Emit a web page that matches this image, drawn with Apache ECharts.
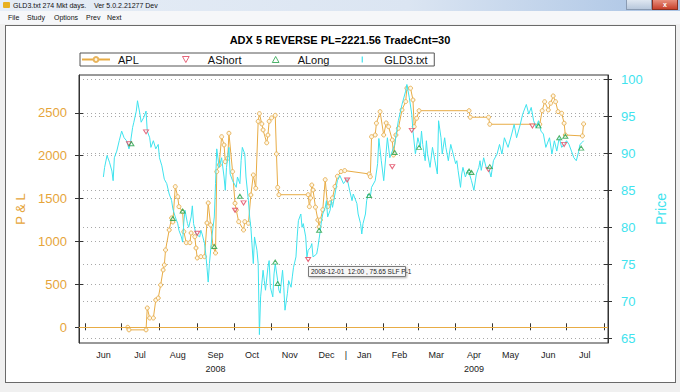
<!DOCTYPE html>
<html><head><meta charset="utf-8">
<script src="https://cdn.jsdelivr.net/npm/echarts@6/dist/echarts.min.js"></script>
<style>
html,body{margin:0;padding:0;background:#f0f0f0;overflow:hidden;}
#wrap{position:relative;width:680px;height:392px;font-family:"Liberation Sans",Arial,sans-serif;}
#titlebar{position:absolute;left:0;top:0;width:680px;height:11px;background:linear-gradient(to right,#e6edf6 0%,#dbe5f2 60%,#a9c3e4 100%);}
#titlebar .t{position:absolute;left:13px;top:1px;font-size:7px;color:#111;white-space:pre;line-height:9px;}
#titlebar .ic{position:absolute;left:3px;top:2px;width:7px;height:6px;background:#e8b020;border-radius:1px;}
#btns{position:absolute;left:626px;top:0;width:26px;height:10px;background:linear-gradient(#dfe7f1,#b8c8dc);border:1px solid #8a9bb2;border-top:none;box-sizing:border-box;}
#close{position:absolute;left:652px;top:0;width:26px;height:10px;background:linear-gradient(#e8907e,#c8412c);border:1px solid #8a3020;border-top:none;box-sizing:border-box;color:#fff;font-size:7px;text-align:center;line-height:9px;font-weight:bold;}
#menubar{position:absolute;left:0;top:11px;width:680px;height:13px;background:#f6f7f9;}
#menubar span{position:absolute;top:2px;font-size:7px;color:#111;line-height:9px;}
#panel{position:absolute;left:5px;top:25px;width:671px;height:358px;background:#fff;border:1px solid #6a6a6a;box-sizing:border-box;}
#c{position:absolute;left:0;top:0;width:680px;height:392px;}
</style>
</head><body>
<div id="wrap">
<div id="titlebar"><div class="ic"></div><div class="t">GLD3.txt 274 Mkt days.    Ver 5.0.2.21277 Dev</div></div>
<div id="btns"></div><div id="close">x</div>
<div id="menubar"><span style="left:8px">File</span><span style="left:27px">Study</span><span style="left:54px">Options</span><span style="left:86px">Prev</span><span style="left:107px">Next</span></div>
<div id="panel"></div>
<div id="c"></div>
</div>
<script>
const chartTitle = 'ADX 5 REVERSE PL=2221.56 TradeCnt=30';
const aplDates = ['2008-07-06','2008-07-07','2008-07-21','2008-07-22','2008-07-24','2008-07-27','2008-07-29','2008-07-31','2008-08-02','2008-08-04','2008-08-05','2008-08-06','2008-08-09','2008-08-11','2008-08-12','2008-08-14','2008-08-16','2008-08-17','2008-08-20','2008-08-21','2008-08-23','2008-08-26','2008-08-27','2008-08-30','2008-08-31','2008-09-01','2008-09-04','2008-09-07','2008-09-09','2008-09-10','2008-09-12','2008-09-14','2008-09-16','2008-09-17','2008-09-19','2008-09-21','2008-09-23','2008-09-24','2008-09-26','2008-09-27','2008-09-30','2008-10-02','2008-10-03','2008-10-05','2008-10-09','2008-10-10','2008-10-13','2008-10-15','2008-10-17','2008-10-19','2008-10-21','2008-10-22','2008-10-24','2008-10-25','2008-10-28','2008-10-29','2008-10-30','2008-11-01','2008-11-04','2008-11-05','2008-11-06','2008-11-07','2008-12-01','2008-12-02','2008-12-03','2008-12-04','2008-12-05','2008-12-07','2008-12-09','2008-12-10','2008-12-11','2008-12-13','2008-12-15','2008-12-17','2008-12-19','2008-12-21','2008-12-23','2008-12-25','2008-12-28','2008-12-31','2009-01-20','2009-01-21','2009-01-22','2009-01-25','2009-01-26','2009-01-29','2009-02-01','2009-02-03','2009-02-05','2009-02-08','2009-02-09','2009-02-11','2009-02-13','2009-02-16','2009-02-19','2009-02-20','2009-02-23','2009-02-25','2009-02-26','2009-02-28','2009-03-02','2009-04-12','2009-04-13','2009-04-28','2009-04-29','2009-06-09','2009-06-11','2009-06-13','2009-06-16','2009-06-18','2009-06-20','2009-06-22','2009-06-24','2009-06-27','2009-06-29','2009-06-30','2009-07-14','2009-07-15'];
const aplValues = [0,-30,-30,225,108,108,318,341,493,668,726,901,1134,1274,1227,1639,1522,1406,1347,1114,986,986,1099,1056,924,808,823,823,1216,1449,1192,939,866,1814,1892,2221,2125,1930,1970,2261,1814,1445,1367,1231,1134,1231,1212,1542,1775,1620,2400,2490,2370,2300,2150,2240,2400,2440,2470,2020,1630,1545,1545,1406,1507,1658,1600,1400,1250,1170,1250,1370,1720,1406,1450,1507,1640,1760,1815,1826,1787,1755,2221,2241,2378,2513,2241,2381,2338,2183,2008,2241,2319,2533,2630,2786,2786,2649,2338,2436,2524,2524,2448,2448,2366,2366,2524,2629,2533,2611,2696,2629,2513,2494,2378,2241,2230,2370];
const priceDates = ['2008-06-16','2008-06-17','2008-06-19','2008-06-21','2008-06-23','2008-06-24','2008-06-25','2008-06-27','2008-06-29','2008-07-01','2008-07-03','2008-07-05','2008-07-07','2008-07-08','2008-07-10','2008-07-11','2008-07-13','2008-07-14','2008-07-16','2008-07-17','2008-07-19','2008-07-21','2008-07-22','2008-07-24','2008-07-25','2008-07-27','2008-07-29','2008-07-31','2008-08-01','2008-08-03','2008-08-05','2008-08-07','2008-08-09','2008-08-11','2008-08-12','2008-08-14','2008-08-16','2008-08-17','2008-08-19','2008-08-20','2008-08-21','2008-08-22','2008-08-24','2008-08-25','2008-08-27','2008-08-28','2008-08-29','2008-08-31','2008-09-03','2008-09-04','2008-09-05','2008-09-07','2008-09-08','2008-09-09','2008-09-10','2008-09-11','2008-09-13','2008-09-15','2008-09-16','2008-09-17','2008-09-19','2008-09-21','2008-09-23','2008-09-24','2008-09-25','2008-09-27','2008-09-28','2008-09-30','2008-10-03','2008-10-04','2008-10-06','2008-10-07','2008-10-08','2008-10-10','2008-10-11','2008-10-13','2008-10-14','2008-10-15','2008-10-17','2008-10-18','2008-10-20','2008-10-21','2008-10-22','2008-10-23','2008-10-25','2008-10-26','2008-10-27','2008-10-29','2008-10-30','2008-10-31','2008-11-02','2008-11-03','2008-11-04','2008-11-06','2008-11-07','2008-11-08','2008-11-10','2008-11-11','2008-11-12','2008-11-14','2008-11-15','2008-11-17','2008-11-18','2008-11-19','2008-11-21','2008-11-22','2008-11-23','2008-11-25','2008-11-26','2008-11-27','2008-11-29','2008-11-30','2008-12-01','2008-12-03','2008-12-04','2008-12-05','2008-12-08','2008-12-09','2008-12-11','2008-12-12','2008-12-13','2008-12-15','2008-12-16','2008-12-17','2008-12-19','2008-12-20','2008-12-21','2008-12-23','2008-12-24','2008-12-25','2008-12-27','2008-12-30','2009-01-02','2009-01-04','2009-01-06','2009-01-07','2009-01-10','2009-01-11','2009-01-13','2009-01-14','2009-01-15','2009-01-17','2009-01-18','2009-01-19','2009-01-21','2009-01-22','2009-01-25','2009-01-27','2009-01-28','2009-01-30','2009-02-01','2009-02-04','2009-02-06','2009-02-10','2009-02-13','2009-02-16','2009-02-19','2009-02-20','2009-02-22','2009-02-24','2009-02-25','2009-02-27','2009-03-01','2009-03-03','2009-03-04','2009-03-05','2009-03-07','2009-03-08','2009-03-09','2009-03-11','2009-03-13','2009-03-15','2009-03-17','2009-03-18','2009-03-20','2009-03-21','2009-03-23','2009-03-24','2009-03-26','2009-03-28','2009-03-30','2009-04-01','2009-04-02','2009-04-03','2009-04-05','2009-04-06','2009-04-07','2009-04-09','2009-04-11','2009-04-12','2009-04-14','2009-04-16','2009-04-18','2009-04-20','2009-04-21','2009-04-22','2009-04-24','2009-04-26','2009-04-28','2009-04-30','2009-05-02','2009-05-05','2009-05-07','2009-05-09','2009-05-11','2009-05-14','2009-05-17','2009-05-19','2009-05-21','2009-05-24','2009-05-26','2009-05-29','2009-05-31','2009-06-02','2009-06-04','2009-06-06','2009-06-08','2009-06-10','2009-06-12','2009-06-14','2009-06-17','2009-06-19','2009-06-21','2009-06-23','2009-06-25','2009-06-27','2009-06-29','2009-07-01','2009-07-03','2009-07-05','2009-07-07','2009-07-09','2009-07-11','2009-07-12','2009-07-14','2009-07-15'];
const priceValues = [86.8,88.1,89.7,88.8,87.6,86.3,89.4,90.3,91.7,93.0,92.1,91.7,90.6,91.2,93.5,94.2,95.7,97.1,95.3,94.2,94.8,95.7,93.0,92.1,90.8,91.7,90.6,91.2,89.4,88.3,86.5,85.9,84.5,83.6,82.5,81.4,80.5,79.6,78.7,78.0,80.7,82.3,80.5,80.0,81.4,82.9,80.5,79.1,78.7,79.6,79.1,77.8,76.4,74.6,72.6,75.1,78.7,81.4,85.9,90.6,88.1,89.4,86.8,85.0,88.1,90.8,87.2,86.3,85.4,86.8,85.9,89.0,90.8,89.9,86.8,83.6,81.4,80.0,75.1,78.7,76.9,75.1,65.5,70.6,74.2,72.8,71.5,74.6,75.5,71.9,70.6,73.7,75.1,72.8,71.5,71.1,74.2,71.9,68.8,71.1,72.8,71.9,73.3,74.6,76.0,78.7,80.9,81.8,80.0,80.5,78.7,76.0,76.9,77.3,77.8,76.0,76.4,77.3,79.6,80.9,81.8,82.7,83.6,81.4,82.3,83.6,82.7,84.5,85.4,86.3,87.0,85.9,86.6,85.0,83.6,84.5,83.2,81.8,80.5,79.1,80.5,81.8,83.6,84.5,84.1,85.4,86.3,88.6,92.0,89.0,86.3,92.1,89.4,91.2,94.4,96.6,98.4,99.3,97.5,95.3,93.0,89.9,92.1,90.8,93.0,91.2,89.0,91.7,89.9,88.1,90.8,89.0,87.2,94.4,92.1,89.9,92.1,90.8,89.0,91.2,89.9,88.6,89.0,87.7,85.4,87.2,88.1,86.8,87.7,87.4,86.3,85.0,87.2,88.1,89.0,87.7,89.4,88.1,88.1,86.8,89.0,89.9,91.2,89.9,92.1,90.8,92.6,93.9,92.1,93.9,95.3,96.6,95.3,96.2,94.4,93.5,94.4,93.0,92.6,90.8,92.1,89.9,91.7,90.3,92.1,90.8,91.2,91.7,91.2,90.3,89.4,89.0,90.3,91.2,91.5,91.7];
const shortDates = ['2008-07-07','2008-07-21','2008-09-01','2008-10-02','2008-10-09','2008-12-01','2009-01-02','2009-02-08','2009-02-24','2009-04-28','2009-06-03','2009-06-29'];
const shortPrices = [91.3,92.9,79.2,82.3,83.3,75.65,86.4,88.2,93.1,87.8,93.7,91.2];
const longDates = ['2008-07-09','2008-08-12','2008-08-20','2008-09-15','2008-10-06','2008-11-04','2008-11-06','2008-12-10','2009-01-20','2009-02-10','2009-03-02','2009-04-12','2009-04-14','2009-04-29','2009-06-08','2009-06-25','2009-06-30','2009-07-13'];
const longPrices = [91.3,81.2,82.2,77.4,84.2,75.3,72.4,79.6,84.3,90.1,90.8,87.6,87.4,88.2,93.7,92.1,92.3,90.7];
const monthTickDates = ['2008-06-01','2008-07-01','2008-08-01','2008-09-01','2008-10-01','2008-11-01','2008-12-01','2009-01-01','2009-02-01','2009-03-01','2009-04-01','2009-05-01','2009-06-01','2009-07-01','2009-08-01'];
const monthLabelDates = ['2008-06-16','2008-07-16','2008-08-16','2008-09-16','2008-10-16','2008-11-16','2008-12-16','2009-01-01','2009-01-16','2009-02-14','2009-03-16','2009-04-16','2009-05-16','2009-06-16','2009-07-16'];
const monthNames = ['Jan','Feb','Mar','Apr','May','Jun','Jul','Aug','Sep','Oct','Nov','Dec'];
const plTicks = [0,500,1000,1500,2000,2500];
const priceTicks = [65,70,75,80,85,90,95,100];
const noteDate = '2008-12-01';
const notePrice = 75.65;
const noteText = '2008-12-01  12:00 , 75.65 SLF P-1';

const ts = s => { const p = s.split('-').map(Number); return new Date(p[0], p[1]-1, p[2]).getTime(); };
const FONT = '"Liberation Sans", Arial, sans-serif';
const ORANGE = '#E6A53A';
const CYAN = '#3FE3EE';
const xMin = ts('2008-05-27'), xMax = ts('2009-08-04');

const chart = echarts.init(document.getElementById('c'), null, {renderer:'svg', width:680, height:392});
const dotted = {show:true, lineStyle:{color:'#a8a8a8', type:[1,3], width:1}};
const labelFmt = v => {
  const d = new Date(v);
  if (d.getMonth() === 0 && d.getDate() === 1) return '|';
  let s = monthNames[d.getMonth()];
  if (d.getFullYear() === 2008 && d.getMonth() === 8) s += '\n2008';
  if (d.getFullYear() === 2009 && d.getMonth() === 3) s += '\n2009';
  return s;
};
const tickVals = monthTickDates.map(ts);
const DOWN_TRI = 'path://M0,0L10,0L5,9Z';
const UP_TRI = 'path://M5,0L10,9L0,9Z';
const legendRich = {fontSize: 11, color: '#111', fontFamily: FONT, lineHeight: 13, padding: [0, 0, 0, 3]};

chart.setOption({
  backgroundColor: 'rgba(0,0,0,0)',
  animation: false,
  textStyle: {fontFamily: FONT},
  title: {text: chartTitle, left: 'center', top: 34, padding: 0,
    textStyle: {fontSize: 11, fontWeight: 'bold', color: '#000', fontFamily: FONT}},
  legend: {
    left: 80, top: 53, orient: 'horizontal', padding: [1, 4, 1, 1],
    itemGap: 7, itemWidth: 28, itemHeight: 6,
    borderColor: '#555', borderWidth: 1, selectedMode: false,
    formatter: name => (name === 'GLD3.txt' ? '{u|' : '{t|') + name + '}',
    textStyle: {fontSize: 11, color: '#111', fontFamily: FONT,
      rich: {t: Object.assign({width: 57}, legendRich), u: Object.assign({width: 46}, legendRich)}},
    data: [
      {name: 'APL'},
      {name: 'AShort', icon: DOWN_TRI, itemStyle: {color: '#fff', borderColor: '#e0405a', borderWidth: 1}},
      {name: 'ALong', icon: UP_TRI, itemStyle: {color: '#fff', borderColor: '#22a046', borderWidth: 1}},
      {name: 'GLD3.txt', icon: 'path://M0,0L2,0L2,10L0,10Z', itemStyle: {color: CYAN, borderColor: CYAN, borderWidth: 0}}
    ]
  },
  grid: {left: 79, right: 72, top: 75, bottom: 49, show: true, borderColor: '#333', borderWidth: 1,
    backgroundColor: 'rgba(0,0,0,0)', outerBoundsMode: 'none'},
  xAxis: [
    {type: 'value', position: 'bottom', min: xMin, max: xMax, scale: true,
      axisLine: {show: true, lineStyle: {color: '#333'}},
      axisTick: {show: true, inside: true, length: 4, customValues: tickVals, lineStyle: {color: '#333'}},
      axisLabel: {show: true, customValues: monthLabelDates.map(ts), formatter: labelFmt,
        fontSize: 9, color: '#222', lineHeight: 14, margin: 5, fontFamily: FONT},
      splitLine: {show: false}},
    {type: 'value', position: 'top', min: xMin, max: xMax, scale: true,
      axisLine: {show: true, lineStyle: {color: '#333'}},
      axisTick: {show: true, inside: true, length: 3, customValues: tickVals, lineStyle: {color: '#333'}},
      axisLabel: {show: false}, splitLine: {show: false}}
  ],
  yAxis: [
    {type: 'value', position: 'left', min: -183, max: 2940, splitNumber: 6,
      axisLine: {show: true, lineStyle: {color: '#333'}},
      axisTick: {show: true, length: 4, customValues: plTicks, lineStyle: {color: '#333'}},
      axisLabel: {customValues: plTicks, formatter: v => String(v), color: ORANGE, fontSize: 13, margin: 12, fontFamily: FONT},
      splitLine: dotted,
      name: 'P & L', nameLocation: 'middle', nameGap: 47, nameRotate: 90,
      nameTextStyle: {color: ORANGE, fontSize: 13, fontFamily: FONT}},
    {type: 'value', position: 'right', min: 64.37, max: 100.58, splitNumber: 7,
      axisLine: {show: true, lineStyle: {color: '#333'}},
      axisTick: {show: true, length: 4, customValues: priceTicks, lineStyle: {color: '#333'}},
      axisLabel: {customValues: priceTicks, formatter: v => String(v), color: CYAN, fontSize: 13, margin: 13, fontFamily: FONT},
      splitLine: dotted,
      name: 'Price', nameLocation: 'middle', nameGap: 40, nameRotate: 90,
      nameTextStyle: {color: CYAN, fontSize: 14, fontFamily: FONT}},
    {type: 'value', position: 'left', min: -183, max: 2940, splitNumber: 6,
      axisLine: {show: false}, axisLabel: {show: false}, splitLine: {show: false},
      axisTick: {show: true, inside: true, length: 4, customValues: plTicks, lineStyle: {color: '#333'}}},
    {type: 'value', position: 'right', min: 64.37, max: 100.58, splitNumber: 7,
      axisLine: {show: false}, axisLabel: {show: false}, splitLine: {show: false},
      axisTick: {show: true, inside: true, length: 4, customValues: priceTicks, lineStyle: {color: '#333'}}}
  ],
  series: [
    {name: 'APL', type: 'line', xAxisIndex: 0, yAxisIndex: 0, z: 3,
      data: aplDates.map((d, i) => [ts(d), aplValues[i]]),
      symbol: 'circle', symbolSize: 4, showAllSymbol: true,
      lineStyle: {color: '#E8AC45', width: 1},
      itemStyle: {color: '#FFF7E6', borderColor: '#E8B45C', borderWidth: 1},
      markLine: {silent: true, symbol: 'none', label: {show: false},
        lineStyle: {color: '#E8AC45', width: 1, type: 'solid'}, data: [{yAxis: 0}]}},
    {name: 'GLD3.txt', type: 'line', xAxisIndex: 0, yAxisIndex: 1, z: 4,
      data: priceDates.map((d, i) => [ts(d), priceValues[i]]),
      symbol: 'none', lineStyle: {color: CYAN, width: 1}, itemStyle: {color: CYAN}},
    {name: 'AShort', type: 'scatter', xAxisIndex: 0, yAxisIndex: 1, z: 5,
      data: shortDates.map((d, i) => [ts(d), shortPrices[i]]),
      symbol: DOWN_TRI, symbolSize: [5, 4],
      itemStyle: {color: 'rgba(255,255,255,0.6)', borderColor: '#e0405a', borderWidth: 1}},
    {name: 'ALong', type: 'scatter', xAxisIndex: 0, yAxisIndex: 1, z: 5,
      data: longDates.map((d, i) => [ts(d), longPrices[i]]),
      symbol: UP_TRI, symbolSize: [5, 4],
      itemStyle: {color: 'rgba(255,255,255,0.6)', borderColor: '#22a046', borderWidth: 1}}
  ]
});

const np = chart.convertToPixel({xAxisIndex: 0, yAxisIndex: 1}, [ts(noteDate), notePrice]);
chart.setOption({graphic: [{type: 'group', id: 'note', x: Math.round(np[0]), y: Math.round(np[1]) + 6, z: 20, children: [
  {type: 'rect', shape: {x: 0.5, y: 0.5, width: 97, height: 10},
    style: {fill: '#f6f6f6', stroke: '#7a7a7a', lineWidth: 1, shadowBlur: 2, shadowOffsetX: 1, shadowOffsetY: 1, shadowColor: 'rgba(0,0,0,0.3)'}},
  {type: 'text', x: 3, y: 2, style: {text: noteText, fontSize: 6.5, fontFamily: FONT, fill: '#222'}}
]}]});
</script>
</body></html>
